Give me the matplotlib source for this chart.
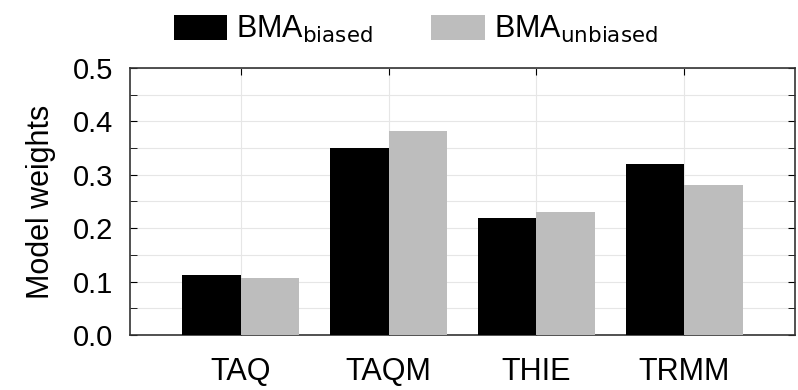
import numpy as np
import matplotlib.pyplot as plt
from matplotlib.ticker import MultipleLocator

plt.rcParams['font.family'] = ['Liberation Sans', 'DejaVu Sans']

# data
products = ['TAQ', 'TAQM', 'THIE', 'TRMM']
w_biased = [0.112, 0.351, 0.219, 0.320]
w_unbiased = [0.107, 0.382, 0.231, 0.280]

fig = plt.figure(figsize=(7.98, 3.9), dpi=100)
ax = fig.add_axes([130 / 798, 1 - 335 / 390, 665 / 798, 267 / 390])

x = np.arange(1, len(products) + 1)
bw = 0.395
b1 = ax.bar(x - bw / 2, w_biased, bw, color='black', zorder=3, label='BMA$_{\\mathrm{biased}}$')
b2 = ax.bar(x + bw / 2, w_unbiased, bw, color='#bdbdbd', zorder=3, label='BMA$_{\\mathrm{unbiased}}$')

ax.set_xlim(0.25, 4.75)
ax.set_ylim(0, 0.5)
ax.set_xticks(x)
ax.set_xticklabels(products)
ax.yaxis.set_major_locator(MultipleLocator(0.1))
ax.yaxis.set_minor_locator(MultipleLocator(0.05))
ax.set_yticklabels(['%.1f' % v for v in ax.get_yticks()])
ax.grid(True, which='both', axis='y', color='#e6e6e6', lw=0.8, zorder=0)
ax.grid(True, which='major', axis='x', color='#e6e6e6', lw=0.8, zorder=0)
ax.tick_params(axis='both', which='both', direction='in', top=True, right=True)
ax.tick_params(axis='y', which='both', length=5, labelsize=21, pad=12)
ax.tick_params(axis='x', which='major', length=5, labelsize=22, pad=16)
for s in ax.spines.values():
    s.set_linewidth(1.2)
    s.set_color('#333333')
ax.set_ylabel('Model weights', fontsize=22, labelpad=12)

# legend above the axes
fig.legend(handles=[b1, b2], loc='upper center', bbox_to_anchor=(0.521, 1.035), ncol=2,
           frameon=False, fontsize=22, handlelength=1.75, handleheight=0.9,
           columnspacing=1.9, handletextpad=0.3)

fig.savefig('out.png', dpi=100)
